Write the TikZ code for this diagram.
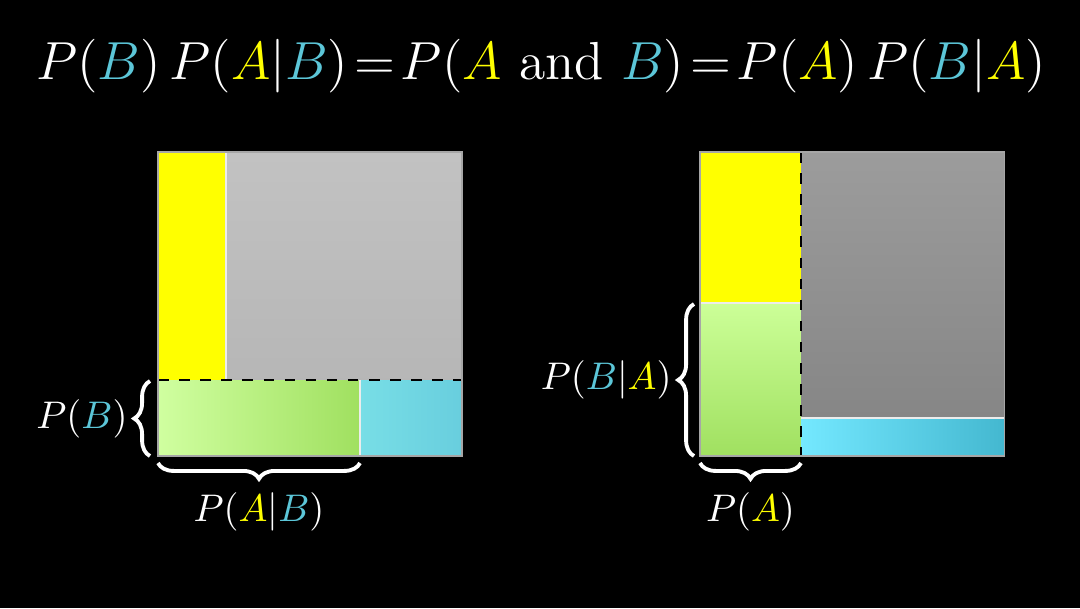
\documentclass[tikz,border=0pt]{standalone}
\usepackage{xcolor}
\usetikzlibrary{decorations.pathreplacing}
\definecolor{bcol}{HTML}{5CC6D8}
\definecolor{acol}{HTML}{FFFF00}
\definecolor{lgray}{HTML}{C2C2C2}
\newcommand{\evB}{\textcolor{bcol}{B}}
\newcommand{\evA}{\textcolor{acol}{A}}
\tikzset{
  brc/.style={white,line width=1.1pt,decorate,decoration={brace,amplitude=4.5pt}},
  lbl/.style={white,font=\fontsize{11.4}{13}\selectfont},
  edge/.style={draw=gray!70,line width=0.3pt}
}
\begin{document}
\begin{tikzpicture}[x=0.01cm,y=-0.01cm]
  \fill[black] (0,0) rectangle (1080,608);
  \useasboundingbox (0,0) rectangle (1080,608);
  % formula
  \node[white,font=\fontsize{14.4}{17}\selectfont,scale=1.058] (eq) at (541,66)
    {$P(\evB)\,P(\evA|\evB)\!=\!P(\evA\mbox{ and }\evB)\!=\!P(\evA)\,P(\evB|\evA)$};
  % left square
  \fill[acol] (158,152) rectangle (226,380);
  \fill[top color=lgray,bottom color=lgray!94!black] (226,152) rectangle (462,380);
  \fill[left color={rgb,255:red,208;green,255;blue,160},right color={rgb,255:red,160;green,224;blue,96}] (158,380) rectangle (360,456);
  \fill[left color={rgb,255:red,120;green,222;blue,230},right color={rgb,255:red,104;green,206;blue,222}] (360,380) rectangle (462,456);
  \draw[white!85!gray,line width=0.3pt] (226,152) -- (226,380) (360,380) -- (360,456);
  \draw[black,dashed,line width=0.5pt] (158,380) -- (462,380);
  \draw[edge] (158,152) rectangle (462,456);
  % right square
  \fill[acol] (700,152) rectangle (801,303);
  \fill[top color={rgb,255:red,204;green,255;blue,152},bottom color={rgb,255:red,160;green,224;blue,96}] (700,303) rectangle (801,456);
  \fill[top color={rgb,255:red,156;green,156;blue,156},bottom color={rgb,255:red,134;green,134;blue,134}] (801,152) rectangle (1004,418);
  \fill[left color={rgb,255:red,116;green,232;blue,255},right color={rgb,255:red,68;green,184;blue,208}] (801,418) rectangle (1004,456);
  \draw[white!85!gray,line width=0.3pt] (700,303) -- (801,303) (801,418) -- (1004,418);
  \draw[black,dashed,line width=0.5pt] (801,152) -- (801,456);
  \draw[edge] (700,152) rectangle (1004,456);
  % braces
  \draw[brc] (150,456) -- (150,381) node[midway,left=2.5pt,lbl] (pb) {$P(\evB)$};
  \draw[brc,decoration={mirror}] (158,463) -- (360,463) node[midway,below=4.5pt,lbl] (pab) {$P(\evA|\evB)$};
  \draw[brc] (694,456) -- (694,304) node[midway,left=2.5pt,lbl] (pba) {$P(\evB|\evA)$};
  \draw[brc,decoration={mirror}] (700,463) -- (801,463) node[midway,below=4.5pt,lbl] (pa) {$P(\evA)$};
\end{tikzpicture}
\end{document}
